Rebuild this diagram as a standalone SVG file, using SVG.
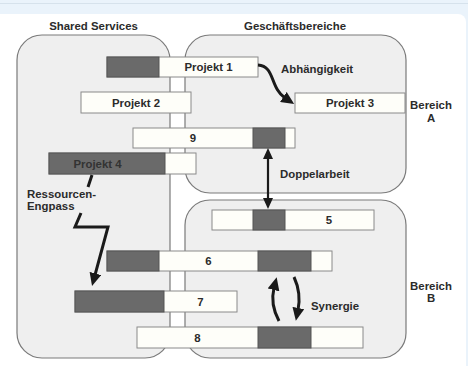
<svg xmlns="http://www.w3.org/2000/svg" width="468" height="366" viewBox="0 0 468 366">
<defs>
<style>
text{font-family:"Liberation Sans",Arial,Helvetica,sans-serif;font-weight:bold;font-size:11.4px;fill:#2b2b2b}
.c{text-anchor:middle}
.area{fill:#efefef;stroke:#7a7a7a;stroke-width:1.2}
.w{fill:#fefef9;stroke:#8a8a8a;stroke-width:1}
.d{fill:#6a6a6a;stroke:#555;stroke-width:1}
.ln{fill:none;stroke:#1a1a1a;stroke-width:3}
.ln2{fill:none;stroke:#1a1a1a;stroke-width:2.2}
</style>
<marker id="ah" viewBox="0 0 13 12" refX="2" refY="6" markerWidth="13" markerHeight="12" markerUnits="userSpaceOnUse" orient="auto">
<path d="M0,0 L13,6 L0,12 z" fill="#1a1a1a"/>
</marker>
<marker id="am" viewBox="0 0 11 10" refX="2" refY="5" markerWidth="11" markerHeight="10" markerUnits="userSpaceOnUse" orient="auto-start-reverse">
<path d="M0,0 L11,5 L0,10 z" fill="#1a1a1a"/>
</marker>
</defs>
<rect x="0" y="0" width="468" height="366" fill="#eaf3fb"/>
<line x1="0" y1="3.5" x2="468" y2="3.5" stroke="#d6e2ec" stroke-width="1"/>
<rect x="-10" y="14" width="476" height="400" rx="8" fill="#ffffff"/>

<g id="shared-services">
<rect class="area" x="17" y="35" width="153" height="323" rx="25"/>
<text class="c" x="93.5" y="30">Shared Services</text>
</g>
<g id="bereich-a">
<rect class="area" x="185" y="35" width="221" height="158" rx="25"/>
<text class="c" x="295" y="30">Geschäftsbereiche</text>
<text class="c" x="431" y="108.5">Bereich</text>
<text class="c" x="431" y="121.5">A</text>
</g>
<g id="bereich-b">
<rect class="area" x="185" y="200" width="221" height="158" rx="25"/>
<text class="c" x="431" y="289.5">Bereich</text>
<text class="c" x="431" y="301.5">B</text>
</g>

<g id="projekt1">
<rect class="w" x="107" y="57" width="151" height="20"/>
<rect class="d" x="107" y="57" width="52" height="20"/>
<text class="c" x="208.5" y="71">Projekt 1</text>
</g>
<g id="projekt2">
<rect class="w" x="81" y="92" width="110" height="21"/>
<text class="c" x="136" y="106.5">Projekt 2</text>
</g>
<g id="projekt3">
<rect class="w" x="295" y="93" width="110" height="20"/>
<text class="c" x="350" y="107">Projekt 3</text>
</g>
<g id="projekt9">
<rect class="w" x="133" y="128" width="162" height="20"/>
<rect class="d" x="253" y="128" width="32" height="20"/>
<text class="c" x="193" y="142">9</text>
</g>
<g id="projekt4">
<rect class="w" x="49" y="153" width="147" height="21"/>
<rect class="d" x="49" y="153" width="116" height="21"/>
<text class="c" x="97.5" y="168" style="fill:#333">Projekt 4</text>
</g>
<g id="projekt5">
<rect class="w" x="212" y="210" width="162" height="20"/>
<rect class="d" x="253" y="210" width="32" height="20"/>
<text class="c" x="329" y="224">5</text>
</g>
<g id="projekt6">
<rect class="w" x="107" y="251" width="225" height="20"/>
<rect class="d" x="107" y="251" width="52" height="20"/>
<rect class="d" x="258" y="251" width="53" height="20"/>
<text class="c" x="208.5" y="265">6</text>
</g>
<g id="projekt7">
<rect class="w" x="75" y="291" width="162" height="21"/>
<rect class="d" x="75" y="291" width="89" height="21"/>
<text class="c" x="200.5" y="305.5">7</text>
</g>
<g id="projekt8">
<rect class="w" x="137" y="327" width="226" height="21"/>
<rect class="d" x="258" y="327" width="53" height="21"/>
<text class="c" x="197.5" y="341.5">8</text>
</g>

<g id="connectors">
<path class="ln" d="M258,65 C275,66 270,88 285,98" marker-end="url(#ah)"/>
<line class="ln2" x1="268" y1="157" x2="268" y2="200" marker-start="url(#am)" marker-end="url(#am)"/>
<path class="ln" d="M92,175 L88,187"/>
<path class="ln" d="M81,213 L75,227 L108,227 L94.9,275.4" stroke-linejoin="miter" marker-end="url(#ah)"/>
<path class="ln" d="M279,321 C272,308 272,296 274,288" marker-end="url(#ah)"/>
<path class="ln" d="M294,277 C300,290 300,300 298,310" marker-end="url(#ah)"/>
</g>

<g id="labels">
<text x="281" y="73">Abhängigkeit</text>
<text x="280" y="178">Doppelarbeit</text>
<text x="311" y="310">Synergie</text>
<text x="27" y="197.5">Ressourcen-</text>
<text x="27" y="209.5">Engpass</text>
</g>
</svg>
